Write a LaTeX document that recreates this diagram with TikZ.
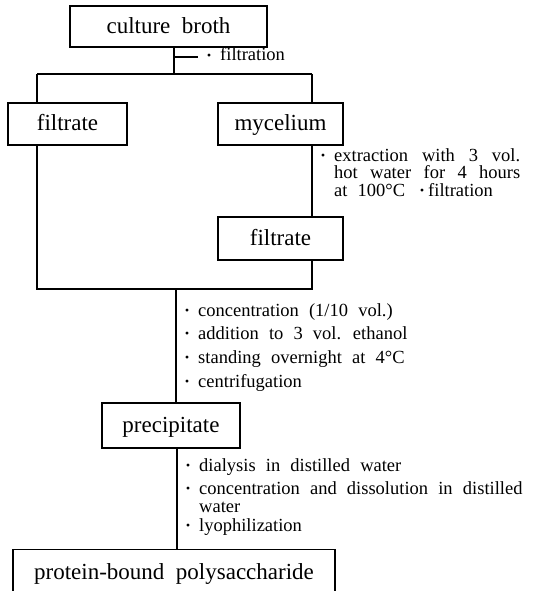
\documentclass[tikz,border=0pt]{standalone}
\usepackage{fontspec}
\setmainfont{Liberation Serif}
\usepackage{tikz}
\usetikzlibrary{positioning, calc}

\newcommand{\middot}{\raisebox{-2.5pt}{\fontsize{24}{24}\selectfont\textperiodcentered}}
\newcommand{\notedot}{\makebox[22pt]{\middot}}
\newcommand{\boxfont}{\fontsize{23}{26}\selectfont\spaceskip=0.5em plus 0.2em minus 0.1em\relax}
\newcommand{\notefont}{\fontsize{18.5}{18.5}\selectfont\spaceskip=0.55em plus 0.3em minus 0.1em\relax}

\begin{document}
\begin{tikzpicture}[
    x=1pt, y=-1pt,
    box/.style={rectangle, draw, line width=1.1pt, inner sep=0pt, minimum height=42pt,
                text height=18pt, text depth=4pt, font=\boxfont},
    note/.style={anchor=west, inner sep=0pt, text height=11pt, text depth=3pt, font=\notefont},
    link/.style={line width=1.1pt},
]
    \useasboundingbox (0,0) rectangle (538,591);

    % boxes
    \node[box, minimum width=197pt, minimum height=41pt] (broth) at (168.5,26.5) {culture broth};
    \node[box, minimum width=119pt] (filtA) at (67.5,124) {filtrate};
    \node[box, minimum width=125pt] (myc) at (280.5,124) {mycelium};
    \node[box, minimum width=125pt, minimum height=43pt] (filtB) at (280.5,238.5) {filtrate};
    \node[box, minimum width=138pt, minimum height=45pt] (prec) at (171,425.5) {precipitate};
    \node[box, minimum width=322pt, minimum height=45pt] (prod) at (174,572)
        {protein-bound polysaccharide};

    % branch points
    \coordinate (split) at (174,74);
    \coordinate (tick) at (174,57);
    \coordinate (join) at (176,289);
    \coordinate (drop) at (177,500);
    \coordinate (splitL) at (37,74);
    \coordinate (splitR) at (312,74);
    \coordinate (joinL) at (37,289);
    \coordinate (joinR) at (312,289);

    % notes
    \node[note] (nfilt) at (198,57) {\notedot filtration};

    \node[note] (nextr) at (312,157) {\notedot\makebox[186pt][s]{extraction with 3 vol.}};
    \node[note] (nhot) at (312,174.5) {\hspace*{22pt}\makebox[186pt][s]{hot water for 4 hours}};
    \node[note] (nat) at (312,192)
        {\hspace*{22pt}\makebox[82pt][l]{at 100\textdegree C}\makebox[12pt]{\middot}filtration};

    \node[note] (nconc) at (176,312) {\notedot concentration (1/10 vol.)};
    \node[note] (nadd) at (176,335) {\notedot addition to 3 vol. ethanol};
    \node[note] (nstand) at (176,359) {\notedot standing overnight at 4\textdegree C};
    \node[note] (ncent) at (176,383) {\notedot centrifugation};

    \node[note] (ndial) at (177,467) {\notedot dialysis in distilled water};
    \node[note] (ndiss) at (177,490) {\notedot concentration and dissolution in distilled};
    \node[note] (nwat) at (177,508) {\hspace*{22pt}water};
    \node[note] (nlyo) at (177,527) {\notedot lyophilization};

    % connectors
    \draw[link] (broth.south -| split) -- (split);
    \draw[link] (tick) -- (nfilt.west);
    \draw[link] (splitL) -- (splitR);
    \draw[link] (splitL) -- (filtA.north -| splitL);
    \draw[link] (splitR) -- (myc.north -| splitR);
    \draw[link] (filtA.south -| splitL) -- (joinL) -- (joinR) -- (filtB.south -| joinR);
    \draw[link] (myc.south -| splitR) -- (filtB.north -| splitR);
    \draw[link] (join) -- (prec.north -| join);
    \draw[link] (prec.south -| drop) -- (prod.north -| drop);
\end{tikzpicture}
\end{document}
